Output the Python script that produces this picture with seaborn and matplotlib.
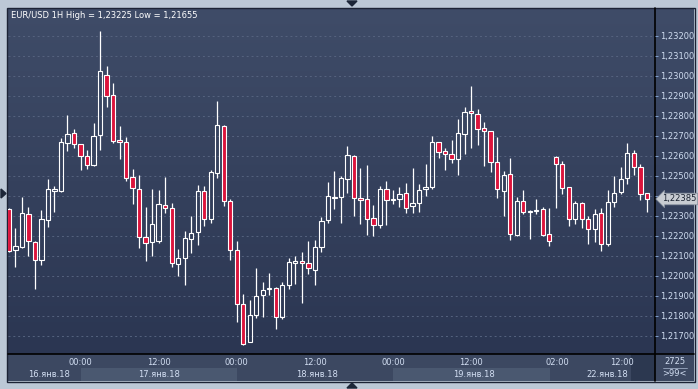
import numpy as np
import pandas as pd
import matplotlib
matplotlib.use("Agg")
import matplotlib.pyplot as plt
import matplotlib.transforms as mtransforms
from matplotlib.lines import Line2D
from matplotlib.patches import Polygon, Rectangle
import seaborn as sns

# hourly EUR/USD candles
opens = [1.22333, 1.22128, 1.22147, 1.22308, 1.22168, 1.22078, 1.22278, 1.22427, 1.22427, 1.22663,
         1.22713, 1.22658, 1.22598, 1.22557, 1.22703, 1.23003, 1.22903, 1.22678, 1.22668, 1.22493,
         1.22433, 1.22193, 1.22168, 1.22177, 1.22353, 1.22338, 1.22058, 1.22088, 1.22183, 1.22218,
         1.22423, 1.22283, 1.22513, 1.22748, 1.22373, 1.22128, 1.21858, 1.21668, 1.21807, 1.21903,
         1.21933, 1.21938, 1.21797, 1.21953, 1.22067, 1.22073, 1.22065, 1.22032, 1.22143, 1.22278,
         1.22390, 1.22393, 1.22487, 1.22598, 1.22388, 1.22383, 1.22288, 1.22257, 1.22433, 1.22382,
         1.22383, 1.22413, 1.22348, 1.22367, 1.22433, 1.22447, 1.22668, 1.22623, 1.22608, 1.22583,
         1.22708, 1.22823, 1.22808, 1.22738, 1.22723, 1.22568, 1.22427, 1.22508, 1.22207, 1.22373,
         1.22318, 1.22325, 1.22333, 1.22208, 1.22593, 1.22558, 1.22443, 1.22287, 1.22363, 1.22287,
         1.22233, 1.22313, 1.22162, 1.22372, 1.22418, 1.22488, 1.22613, 1.22543, 1.22413]
highs = [1.22340, 1.22240, 1.22395, 1.22345, 1.22175, 1.22328, 1.22485, 1.22452, 1.22692, 1.22805,
         1.22735, 1.22660, 1.22630, 1.22765, 1.23225, 1.23050, 1.22965, 1.22748, 1.22693, 1.22535,
         1.22505, 1.22345, 1.22435, 1.22430, 1.22495, 1.22363, 1.22135, 1.22225, 1.22300, 1.22455,
         1.22450, 1.22530, 1.22875, 1.22753, 1.22383, 1.22175, 1.21910, 1.21880, 1.22040, 1.21970,
         1.22015, 1.21947, 1.21972, 1.22092, 1.22102, 1.22120, 1.22175, 1.22178, 1.22297, 1.22470,
         1.22525, 1.22500, 1.22650, 1.22605, 1.22540, 1.22555, 1.22355, 1.22450, 1.22475, 1.22430,
         1.22443, 1.22465, 1.22538, 1.22458, 1.22560, 1.22700, 1.22668, 1.22640, 1.22680, 1.22785,
         1.22845, 1.22950, 1.22835, 1.22768, 1.22723, 1.22695, 1.22523, 1.22590, 1.22395, 1.22430,
         1.22332, 1.22385, 1.22345, 1.22338, 1.22598, 1.22575, 1.22443, 1.22377, 1.22370, 1.22300,
         1.22335, 1.22342, 1.22430, 1.22500, 1.22545, 1.22665, 1.22628, 1.22562, 1.22413]
lows = [1.22120, 1.22047, 1.22138, 1.22100, 1.21937, 1.22057, 1.22247, 1.22322, 1.22422, 1.22627,
        1.22642, 1.22532, 1.22537, 1.22552, 1.22632, 1.22847, 1.22663, 1.22587, 1.22477, 1.22362,
        1.22142, 1.22077, 1.22102, 1.22163, 1.22317, 1.22047, 1.22002, 1.21957, 1.22117, 1.22157,
        1.22252, 1.22267, 1.22492, 1.22352, 1.22082, 1.21772, 1.21655, 1.21668, 1.21792, 1.21797,
        1.21905, 1.21737, 1.21787, 1.21937, 1.21958, 1.21863, 1.22012, 1.21957, 1.22120, 1.22267,
        1.22337, 1.22267, 1.22415, 1.22302, 1.22262, 1.22207, 1.22198, 1.22242, 1.22257, 1.22362,
        1.22345, 1.22317, 1.22317, 1.22322, 1.22402, 1.22433, 1.22592, 1.22528, 1.22567, 1.22507,
        1.22612, 1.22642, 1.22657, 1.22552, 1.22520, 1.22392, 1.22302, 1.22182, 1.22200, 1.22310,
        1.22187, 1.22310, 1.22202, 1.22148, 1.22342, 1.22412, 1.22248, 1.22262, 1.22242, 1.22162,
        1.22172, 1.22127, 1.22152, 1.22347, 1.22408, 1.22462, 1.22507, 1.22382, 1.22322]
closes = [1.22127, 1.22148, 1.22313, 1.22173, 1.22078, 1.22283, 1.22433, 1.22433, 1.22668, 1.22708,
          1.22658, 1.22598, 1.22553, 1.22698, 1.23023, 1.22898, 1.22673, 1.22668, 1.22488, 1.22438,
          1.22193, 1.22163, 1.22258, 1.22358, 1.22338, 1.22063, 1.22088, 1.22188, 1.22213, 1.22423,
          1.22283, 1.22518, 1.22753, 1.22373, 1.22128, 1.21858, 1.21660, 1.21803, 1.21898, 1.21928,
          1.21938, 1.21797, 1.21953, 1.22068, 1.22073, 1.22063, 1.22038, 1.22143, 1.22273, 1.22398,
          1.22395, 1.22488, 1.22603, 1.22388, 1.22380, 1.22283, 1.22257, 1.22433, 1.22378, 1.22385,
          1.22408, 1.22342, 1.22363, 1.22428, 1.22443, 1.22670, 1.22618, 1.22608, 1.22583, 1.22713,
          1.22822, 1.22813, 1.22733, 1.22723, 1.22568, 1.22433, 1.22503, 1.22208, 1.22373, 1.22322,
          1.22323, 1.22328, 1.22207, 1.22173, 1.22558, 1.22438, 1.22283, 1.22363, 1.22287, 1.22237,
          1.22308, 1.22158, 1.22368, 1.22413, 1.22483, 1.22613, 1.22543, 1.22408, 1.22385]

price_ticks = [1.217, 1.218, 1.219, 1.220, 1.221, 1.222, 1.223, 1.224,
               1.225, 1.226, 1.227, 1.228, 1.229, 1.230, 1.231, 1.232]
time_ticks = [11, 23, 35, 47, 59, 71, 84.2, 94.2]
time_labels = ["00:00", "12:00", "00:00", "12:00", "00:00", "12:00", "02:00", "12:00"]
date_pos = [6.2, 23.1, 47.3, 71.4, 91.9]
date_labels = ["16.янв.18", "17.янв.18", "18.янв.18", "19.янв.18", "22.янв.18"]
day_bands = [(11, 35), (59, 83.1)]
last_price = 1.22385
title = "EUR/USD 1H High = 1,23225 Low = 1,21655"

W, H = 698, 389
def fx(x):
    return x / W
def fy(y):
    return 1 - y / H

sns.set_theme(style="dark")
plt.rcParams['font.family'] = ['DejaVu Sans']

df = pd.DataFrame({"open": opens, "high": highs, "low": lows, "close": closes})
df["x"] = np.arange(len(df))
df["top"] = df[["open", "close"]].max(axis=1)
df["bot"] = df[["open", "close"]].min(axis=1)
df["up"] = df["close"] >= df["open"]

fig = plt.figure(figsize=(W / 100, H / 100), dpi=100, facecolor="#bcc8d6")

# gradient background behind plot and right scale
bg = fig.add_axes([fx(8), fy(354), fx(686), 346 / H])
grad = np.linspace(0, 1, 256).reshape(-1, 1)
cmap = matplotlib.colors.LinearSegmentedColormap.from_list("bg", ["#3f4c68", "#2b3652"])
bg.imshow(grad, aspect="auto", cmap=cmap, extent=[0, 1, 0, 1], origin="upper")
bg.set_axis_off()
bg.set_zorder(0)

ax = fig.add_axes([fx(8), fy(354), fx(647), 346 / H])
ax.set_zorder(2)
ax.patch.set_alpha(0)

xlim = (-0.14, 99.25)
ylim = (1.2161, 1.2334)

# wicks above and below the body
ax.vlines(df["x"], df["top"], df["high"], color="white", lw=0.9, zorder=3)
ax.vlines(df["x"], df["low"], df["bot"], color="white", lw=0.9, zorder=3)
# bodies
ax.bar(df["x"], df["top"] - df["bot"], bottom=df["bot"], width=0.66,
       color=np.where(df["up"], "none", "#dc143c"), edgecolor="white", linewidth=0.8, zorder=4)

ax.set_xlim(xlim)
ax.set_ylim(ylim)
ax.set_xticks(time_ticks)
ax.set_xticklabels([])
ax.set_yticks(price_ticks)
# the label under the last-price tag is hidden, as in the terminal
ax.set_yticklabels(["" if abs(p - last_price) < 0.0004 else f"{p:.5f}".replace(".", ",")
                    for p in price_ticks])
ax.yaxis.tick_right()
ax.tick_params(axis="x", length=0)
ax.tick_params(axis="y", length=2.5, width=0.6, color="#8fb0e0", pad=1.2,
               labelsize=6, labelcolor="#cfdcf0", right=True, left=False)
ax.grid(True, ls=(0, (2, 3)), color="#56637f", lw=0.7)
for s in ax.spines.values():
    s.set_visible(False)

ax.text(3 / 647, 1 - 7 / 346, title, transform=ax.transAxes, color="white",
        fontsize=6, ha="left", va="center")

trans = mtransforms.blended_transform_factory(ax.transAxes, ax.transData)
ax.text(1 + 7 / 647, last_price, f"{last_price:.5f}".replace(".", ","), transform=trans,
        fontsize=6, color="#1a2230", ha="left", va="center", clip_on=False, zorder=6,
        bbox=dict(boxstyle="larrow,pad=0.15", fc="#c8ccd2", ec="#8d96a3", lw=0.6))

# bottom time scale
bx = fig.add_axes([fx(8), fy(381), fx(647), 27 / H], sharex=ax)
bx.set_facecolor("#3c4861")
bx.set_ylim(0, 1)
for a, b in day_bands:
    bx.add_patch(Rectangle((a, 0), b - a, 0.48, color="#4a5870", lw=0))
bx.axvspan(95.6, 99.25, color="#2c3850", lw=0)
for t, lab in zip(time_ticks, time_labels):
    bx.text(t, 0.70, lab, fontsize=6, color="#d2def2", ha="center", va="center")
for t, lab in zip(date_pos, date_labels):
    bx.text(t, 0.25, lab, fontsize=6, color="#d2def2", ha="center", va="center")
bx.set_xticks([])
bx.set_yticks([])
for s in bx.spines.values():
    s.set_visible(False)

# bottom-right corner box
cx = fig.add_axes([fx(655), fy(381), 39 / W, 27 / H])
cx.set_facecolor("#3c4861")
cx.set_xlim(0, 1)
cx.set_ylim(0, 1)
cx.text(0.5, 0.72, "2725", fontsize=6, color="#d2def2", ha="center", va="center")
cx.plot([0.2, 0.82], [0.48, 0.48], color="#9aa8c0", lw=0.6)
cx.text(0.5, 0.26, ">99<", fontsize=6, color="#d2def2", ha="center", va="center")
cx.set_xticks([])
cx.set_yticks([])
for s in cx.spines.values():
    s.set_visible(False)

# separators and frame
fig.add_artist(Line2D([fx(655), fx(655)], [fy(8), fy(381)], color="black", lw=1.2))
fig.add_artist(Line2D([fx(8), fx(694)], [fy(354), fy(354)], color="black", lw=1.2))
fig.add_artist(Rectangle((fx(7.5), fy(381.5)), fx(687), 374 / H, fill=False,
                         ec="#1c2335", lw=1.0, transform=fig.transFigure))

# little scroll arrows on the border
for pts in ([(347, 1), (357, 1), (352, 6)],
            [(347, 388), (357, 388), (352, 383)],
            [(1, 189), (1, 198), (6, 193.5)]):
    fig.add_artist(Polygon([(fx(a), fy(b)) for a, b in pts], closed=True,
                           color="#1c2638", transform=fig.transFigure))

fig.savefig("out.png", dpi=100, facecolor=fig.get_facecolor())
